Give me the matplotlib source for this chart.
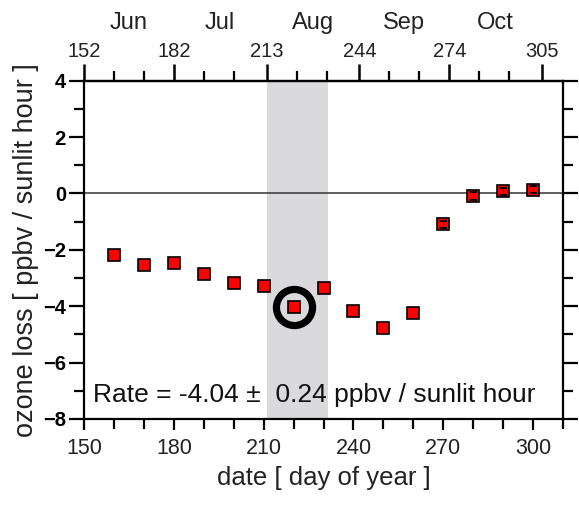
import matplotlib
matplotlib.use("Agg")
import matplotlib.pyplot as plt
import matplotlib.transforms as mtransforms
from matplotlib.ticker import MultipleLocator, FixedLocator

plt.rcParams["font.family"] = ["Liberation Sans", "DejaVu Sans"]

# Ozone loss rate per sunlit hour, by day of year
day = [160, 170, 180, 190, 200, 210, 220, 230, 240, 250, 260, 270, 280, 290, 300]
loss = [-2.18, -2.54, -2.46, -2.85, -3.17, -3.28, -4.04, -3.36, -4.17, -4.76,
        -4.23, -1.09, -0.08, 0.07, 0.14]
# Uncertainties large enough to show past the marker
loss_err = [0, 0, 0, 0, 0, 0, 0, 0, 0, 0, 0, 0.12, 0.14, 0.14, 0.14]

# Highlighted period and its rate
window = (211, 231.5)
rate_day = 220
rate_value = -4.04
rate_err = 0.24

# Month starts (day of year) for the upper axis
month_names = ["Jun", "Jul", "Aug", "Sep", "Oct"]
month_start = [152, 182, 213, 244, 274, 305]
top_offset = 2  # upper-axis day numbers run two days ahead of the lower axis

fig = plt.figure(figsize=(5.79, 5.05), dpi=100)
ax = fig.add_axes([0.1451, 0.1703, 0.9724 - 0.1451, 0.8402 - 0.1703])

ax.set_xlim(150, 310)
ax.set_ylim(-8, 4)

ax.axvspan(window[0], window[1], color="#dadadd", lw=0, zorder=0)
ax.axhline(0, color="#333333", lw=1.1, zorder=1)

ax.plot(day, loss, ls="none", marker="s", ms=8.2, mfc="red", mec="black",
        mew=1.2, zorder=3)
eb_day = [d for d, e in zip(day, loss_err) if e > 0]
eb_loss = [v for v, e in zip(loss, loss_err) if e > 0]
eb_err = [e for e in loss_err if e > 0]
ax.errorbar(eb_day, eb_loss, yerr=eb_err, fmt="none", ecolor="black",
            elinewidth=0.6, capsize=3.0, capthick=1.3, zorder=4)

# Ring around the highlighted value
ax.plot([rate_day], [rate_value], ls="none", marker="o", ms=26, mfc="none",
        mec="black", mew=5.2, zorder=2)

ax.text(153, -7.15, f"Rate = {rate_value:.2f} \u00b1  {rate_err:.2f} ppbv / sunlit hour",
        fontsize=19, ha="left", va="center", color="#111111", zorder=5)

for s in ax.spines.values():
    s.set_linewidth(1.6)

ax.xaxis.set_major_locator(MultipleLocator(30))
ax.xaxis.set_minor_locator(MultipleLocator(10))
ax.yaxis.set_major_locator(MultipleLocator(2))
ax.yaxis.set_minor_locator(MultipleLocator(1))
ax.tick_params(axis="both", which="both", direction="out", width=1.6,
               right=True, labelright=False, top=False)
ax.tick_params(axis="x", which="major", length=8, labelsize=15.5, pad=6,
               labelcolor="#222222")
ax.tick_params(axis="x", which="minor", length=7)
ax.tick_params(axis="y", which="major", length=11, labelsize=14.5, pad=2)
ax.tick_params(axis="y", which="minor", length=7)
for lab in ax.get_yticklabels():
    lab.set_fontweight("bold")

ax.set_xlabel("date [ day of year ]", fontsize=18.5, labelpad=5, color="#222222")
ax.set_ylabel("ozone loss [ ppbv / sunlit hour ]", fontsize=19.5, labelpad=3,
              color="#222222")

# Upper axis in calendar days of year
top = ax.secondary_xaxis("top", functions=(lambda x: x + top_offset,
                                           lambda x: x - top_offset))
top.set_xticks(month_start)
top.xaxis.set_minor_locator(FixedLocator(
    [m + k for m in month_start[:-1] for k in (10, 20)]))
top.tick_params(axis="x", which="major", direction="out", length=12, width=1.8,
                labelsize=14.5, pad=2, labelcolor="#222222")
top.tick_params(axis="x", which="minor", direction="out", length=7, width=1.6)
top.spines["top"].set_linewidth(1.6)

# Month names centred on each month
trans = mtransforms.blended_transform_factory(ax.transData, fig.transFigure)
for name, a, b in zip(month_names, month_start[:-1], month_start[1:]):
    ax.text((a + b) / 2 - top_offset, 1 - 23 / 505, name, transform=trans,
            ha="center", va="center", fontsize=17, color="#222222")

fig.savefig("out.png", dpi=100)
